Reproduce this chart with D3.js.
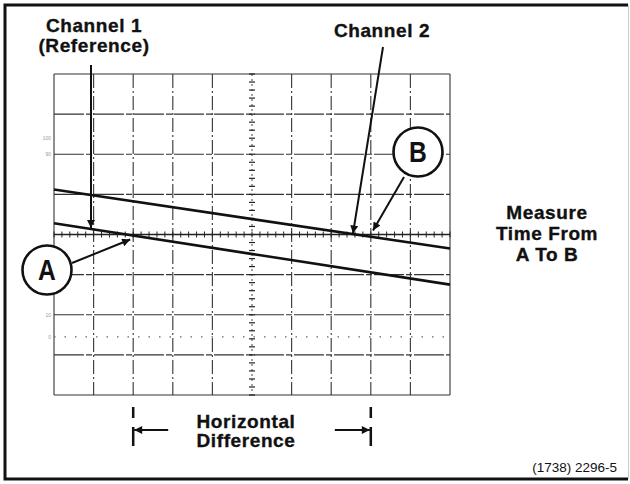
<!DOCTYPE html>
<html>
<head>
<meta charset="utf-8">
<script src="https://cdn.jsdelivr.net/npm/d3@7"></script>
<style>
  body { margin: 0; background: #fff; }
  svg { display: block; }
  text { font-family: "Liberation Sans", Arial, sans-serif; fill: #111; }
  .lbl { font-weight: bold; font-size: 19px; letter-spacing: 0.6px; stroke: #111; stroke-width: 0.35px; }
</style>
</head>
<body>
<div id="chart"></div>
<script>
// graticule: 10 x 8 divisions
const xDivisions = d3.range(0, 11);
const yDivisions = d3.range(-4, 5);
// trace endpoints in divisions (x, y)
const channel1 = [[0, 0.28], [10, -1.25]];
const channel2 = [[0, 1.12], [10, -0.35]];
// points of interest (divisions)
const pointA = [2, 0];
const pointB = [7.55, 0];
const diffMarkers = [2, 8];
const pctLabels = ['100', '90', '10', '0'];
const pctLevels = [2.4, 2, -2, -2.55];

const width = 630, height = 484;
const svg = d3.select('#chart').append('svg')
    .attr('width', width)
    .attr('height', height);

// frame
svg.append('path')
    .attr('d', 'M628,5 L5,5 L5,479 L628,479')
    .style('fill', 'none')
    .style('stroke', '#111')
    .style('stroke-width', 3);
svg.append('line')
    .attr('x1', 628.5).attr('x2', 628.5).attr('y1', 5).attr('y2', 479)
    .style('stroke', '#ccc').style('stroke-width', 1);

const x = d3.scaleLinear().domain([0, 10]).range([54, 450]);
const y = d3.scaleLinear().domain([-4, 4]).range([395, 74]);

const g = svg.append('g');

// major grid
g.selectAll('line.vgrid')
    .data(xDivisions.filter(d => d !== 5))
    .enter().append('line')
    .attr('class', 'vgrid')
    .attr('x1', d => x(d)).attr('x2', d => x(d))
    .attr('y1', y(4)).attr('y2', y(-4))
    .style('stroke', '#444')
    .style('stroke-width', 1.2)
    .style('stroke-dasharray', d => (d === 0 || d === 10) ? null : '14,3,2,3');

g.selectAll('line.hgrid')
    .data(yDivisions.filter(d => d !== 0))
    .enter().append('line')
    .attr('class', 'hgrid')
    .attr('x1', x(0)).attr('x2', x(10))
    .attr('y1', d => y(d)).attr('y2', d => y(d))
    .style('stroke', '#333')
    .style('stroke-width', 1.2)
    .style('stroke-dasharray', d => (d === 4 || d === -4) ? null : '30,2,6,2');

// centre lines with minor ticks
g.append('line')
    .attr('x1', x(0)).attr('x2', x(10))
    .attr('y1', y(0)).attr('y2', y(0))
    .style('stroke', '#222').style('stroke-width', 1.3);
g.append('line')
    .attr('x1', x(5)).attr('x2', x(5))
    .attr('y1', y(4)).attr('y2', y(-4))
    .style('stroke', '#444').style('stroke-width', 1)
    .style('stroke-dasharray', '2,3');

const minorX = d3.range(0, 50.1, 1).map(i => i / 5);
g.selectAll('line.mx')
    .data(minorX)
    .enter().append('line')
    .attr('class', 'mx')
    .attr('x1', d => x(d)).attr('x2', d => x(d))
    .attr('y1', y(0) - 3).attr('y2', y(0) + 3)
    .style('stroke', '#222').style('stroke-width', 1);

const minorY = d3.range(-20, 20.1, 1).map(i => i / 5);
g.selectAll('line.my')
    .data(minorY)
    .enter().append('line')
    .attr('class', 'my')
    .attr('x1', x(5) - 3).attr('x2', x(5) + 3)
    .attr('y1', d => y(d)).attr('y2', d => y(d))
    .style('stroke', '#222').style('stroke-width', 1.2);

// dotted 0% line
g.append('line')
    .attr('x1', x(0)).attr('x2', x(10))
    .attr('y1', y(-2.55)).attr('y2', y(-2.55))
    .style('stroke', '#666').style('stroke-width', 1.2)
    .style('stroke-dasharray', '1.5,9');

// tiny percent marks
g.selectAll('text.pct')
    .data(pctLabels)
    .enter().append('text')
    .attr('class', 'pct')
    .attr('x', x(0) - 3)
    .attr('y', (d, i) => y(pctLevels[i]) + 2)
    .attr('text-anchor', 'end')
    .style('font-size', '5px')
    .style('fill', '#999')
    .text(d => d);

// traces
const line = d3.line().x(d => x(d[0])).y(d => y(d[1]));
[channel1, channel2].forEach(trace => {
    g.append('path')
        .datum(trace)
        .attr('d', line)
        .style('fill', 'none')
        .style('stroke', '#111')
        .style('stroke-width', 2.6);
});

// arrowhead marker
const defs = svg.append('defs');
defs.append('marker')
    .attr('id', 'arrow')
    .attr('viewBox', '0 0 10 10')
    .attr('refX', 10).attr('refY', 5)
    .attr('markerWidth', 16).attr('markerHeight', 8)
    .attr('markerUnits', 'userSpaceOnUse')
    .attr('orient', 'auto')
    .append('path')
    .attr('d', 'M0,0 L10,5 L0,10 Z')
    .style('fill', '#111');

function arrow(x1, y1, x2, y2) {
    svg.append('line')
        .attr('x1', x1).attr('y1', y1)
        .attr('x2', x2).attr('y2', y2)
        .style('stroke', '#111')
        .style('stroke-width', 2)
        .attr('marker-end', 'url(#arrow)');
}

// channel 1 label + arrow
svg.append('text').attr('class', 'lbl')
    .attr('x', 94).attr('y', 32).attr('text-anchor', 'middle').text('Channel 1');
svg.append('text').attr('class', 'lbl')
    .attr('x', 94).attr('y', 52).attr('text-anchor', 'middle').text('(Reference)');
const ch1At = channel1[0][1] + (channel1[1][1] - channel1[0][1]) * x.invert(91) / 10;
arrow(91, 65, 91, y(ch1At) - 1);

// channel 2 label + arrow
svg.append('text').attr('class', 'lbl')
    .attr('x', 382).attr('y', 37).attr('text-anchor', 'middle').text('Channel 2');
arrow(383, 47, x(pointB[0]), y(pointB[1]) - 1);

// circled A and B
function bubble(cx, cy, label) {
    svg.append('circle')
        .attr('cx', cx).attr('cy', cy).attr('r', 24.5)
        .style('fill', '#fff')
        .style('stroke', '#111')
        .style('stroke-width', 2.6);
    svg.append('text')
        .attr('x', cx).attr('y', cy + 10)
        .attr('text-anchor', 'middle')
        .style('font-size', '29px')
        .style('font-weight', 'bold')
        .attr('transform', `translate(${cx},${cy}) scale(0.85,1) translate(${-cx},${-cy})`)
        .text(label);
}
bubble(418, 152, 'B');
arrow(404, 177, x(pointB[0]) + 20, y(pointB[1]) - 4);
bubble(47, 270, 'A');
arrow(72, 263, x(pointA[0]) - 3, y(pointA[1]) + 5);

// measure text
['Measure', 'Time From', 'A To B'].forEach((t, i) => {
    svg.append('text').attr('class', 'lbl')
        .attr('x', 547).attr('y', 219 + i * 21)
        .attr('text-anchor', 'middle').text(t);
});

// horizontal difference markers
diffMarkers.forEach((d, i) => {
    const px = x(d);
    svg.append('line')
        .attr('x1', px).attr('x2', px).attr('y1', 407).attr('y2', 418)
        .style('stroke', '#111').style('stroke-width', 2.5);
    svg.append('line')
        .attr('x1', px).attr('x2', px).attr('y1', 427).attr('y2', 446)
        .style('stroke', '#111').style('stroke-width', 2.5);
    const from = i === 0 ? px + 35 : px - 36;
    arrow(from, 430, i === 0 ? px + 1 : px - 1, 430);
});
['Horizontal', 'Difference'].forEach((t, i) => {
    svg.append('text').attr('class', 'lbl')
        .attr('x', 246).attr('y', 428 + i * 19)
        .attr('text-anchor', 'middle').text(t);
});

// figure number
svg.append('text')
    .attr('x', 617).attr('y', 472)
    .attr('text-anchor', 'end')
    .style('font-size', '13.5px')
    .text('(1738) 2296-5');
</script>
</body>
</html>
